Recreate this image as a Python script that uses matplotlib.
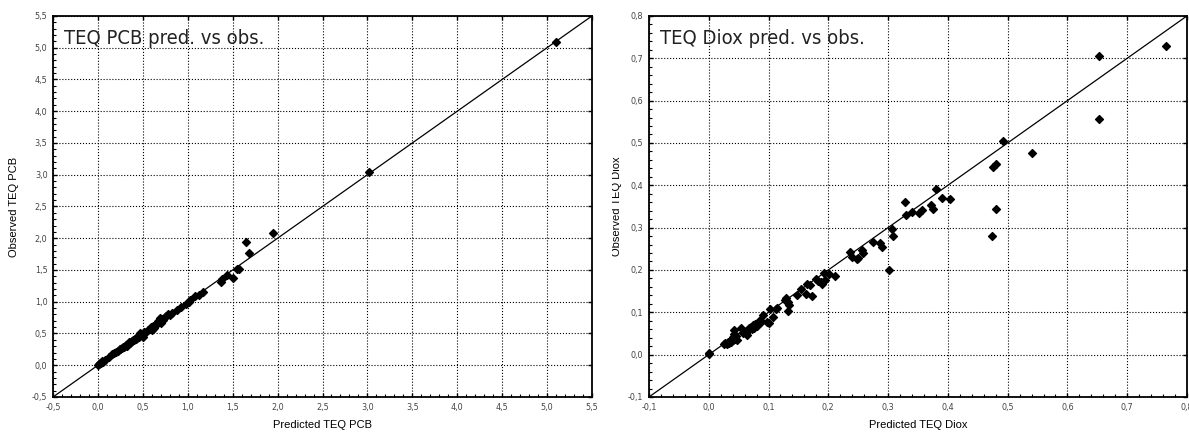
import matplotlib
matplotlib.use("Agg")

import matplotlib.pyplot as plt
from matplotlib.ticker import MultipleLocator, AutoMinorLocator, FuncFormatter
from matplotlib.patches import Rectangle

# TEQ PCB: predicted vs observed
pcb_pred = [0.00, 0.01, 0.02, 0.03, 0.05, 0.06, 0.08, 0.12, 0.16, 0.18,
            0.20, 0.22, 0.24, 0.25, 0.27, 0.28, 0.29, 0.30, 0.31, 0.32,
            0.33, 0.34, 0.35, 0.36, 0.37, 0.38, 0.39, 0.40, 0.41, 0.42,
            0.43, 0.44, 0.45, 0.46, 0.47, 0.48, 0.49, 0.50, 0.51, 0.54,
            0.56, 0.58, 0.59, 0.60, 0.61, 0.62, 0.63, 0.64, 0.66, 0.67,
            0.68, 0.69, 0.70, 0.71, 0.72, 0.74, 0.76, 0.78, 0.80, 0.82,
            0.88, 0.93, 0.98, 1.01, 1.03, 1.08, 1.12, 1.17, 1.37, 1.38,
            1.44, 1.50, 1.55, 1.57, 1.65, 1.68, 1.95, 3.02, 5.10]
pcb_obs = [0.01, 0.02, 0.04, 0.03, 0.06, 0.05, 0.08, 0.13, 0.18, 0.19,
           0.21, 0.22, 0.25, 0.26, 0.27, 0.29, 0.28, 0.31, 0.32, 0.31,
           0.34, 0.33, 0.36, 0.35, 0.37, 0.38, 0.40, 0.39, 0.41, 0.42,
           0.44, 0.43, 0.46, 0.45, 0.51, 0.49, 0.47, 0.45, 0.52, 0.53,
           0.55, 0.57, 0.60, 0.56, 0.62, 0.58, 0.64, 0.61, 0.66, 0.70,
           0.69, 0.74, 0.67, 0.73, 0.71, 0.75, 0.77, 0.80, 0.79, 0.83,
           0.87, 0.91, 0.97, 1.00, 1.03, 1.09, 1.11, 1.15, 1.31, 1.36,
           1.42, 1.37, 1.52, 1.51, 1.94, 1.77, 2.08, 3.04, 5.09]

# TEQ Diox: predicted vs observed
diox_pred = [0.000, 0.001, 0.026, 0.028, 0.030, 0.032, 0.034, 0.036, 0.038, 0.040,
             0.041, 0.042, 0.043, 0.044, 0.046, 0.048, 0.054, 0.058, 0.062, 0.064,
             0.066, 0.068, 0.070, 0.072, 0.074, 0.076, 0.078, 0.080, 0.086, 0.088,
             0.090, 0.098, 0.100, 0.103, 0.108, 0.112, 0.115, 0.128, 0.130, 0.133,
             0.135, 0.133, 0.148, 0.155, 0.162, 0.165, 0.170, 0.173, 0.180, 0.182,
             0.187, 0.190, 0.192, 0.195, 0.202, 0.212, 0.237, 0.240, 0.248, 0.250,
             0.257, 0.258, 0.275, 0.287, 0.290, 0.302, 0.306, 0.309, 0.328, 0.330,
             0.340, 0.352, 0.356, 0.372, 0.375, 0.380, 0.390, 0.403, 0.474, 0.475,
             0.480, 0.480, 0.493, 0.540, 0.652, 0.652, 0.765]
diox_obs = [0.001, 0.003, 0.025, 0.028, 0.024, 0.030, 0.027, 0.033, 0.030, 0.042,
            0.035, 0.058, 0.048, 0.038, 0.044, 0.034, 0.062, 0.052, 0.050, 0.047,
            0.058, 0.062, 0.066, 0.060, 0.070, 0.064, 0.072, 0.068, 0.081, 0.077,
            0.093, 0.078, 0.075, 0.107, 0.090, 0.108, 0.110, 0.129, 0.133, 0.125,
            0.118, 0.102, 0.141, 0.155, 0.143, 0.167, 0.165, 0.138, 0.179, 0.175,
            0.172, 0.167, 0.193, 0.176, 0.191, 0.186, 0.243, 0.230, 0.226, 0.228,
            0.248, 0.240, 0.265, 0.264, 0.255, 0.200, 0.297, 0.281, 0.361, 0.330,
            0.337, 0.335, 0.342, 0.354, 0.344, 0.391, 0.370, 0.368, 0.281, 0.444,
            0.451, 0.344, 0.505, 0.477, 0.706, 0.557, 0.729]

plain = ['Liberation Sans', 'DejaVu Sans']

comma = FuncFormatter(lambda v, pos: f"{v:.1f}".replace('.', ','))

fig = plt.figure(figsize=(11.89, 4.34), dpi=100)
ax1 = fig.add_axes([0.0446, 0.0853, 0.4533, 0.878])
ax2 = fig.add_axes([0.5458, 0.0853, 0.4525, 0.878])


def setup(ax, lo, hi, step, title, xlabel, ylabel, ypad):
    ax.plot([lo, hi], [lo, hi], color='black', lw=0.9, zorder=2)
    ax.set_xlim(lo, hi)
    ax.set_ylim(lo, hi)
    ax.xaxis.set_major_locator(MultipleLocator(step))
    ax.yaxis.set_major_locator(MultipleLocator(step))
    ax.xaxis.set_minor_locator(AutoMinorLocator(5))
    ax.yaxis.set_minor_locator(AutoMinorLocator(5))
    ax.xaxis.set_major_formatter(comma)
    ax.yaxis.set_major_formatter(comma)
    ax.grid(True, which='major', linestyle=':', color='black', lw=0.8)
    ax.tick_params(which='both', direction='in', top=True, right=True,
                   labelsize=6.5, labelcolor='#444444', pad=4)
    ax.tick_params(which='major', length=3, width=1)
    ax.tick_params(which='minor', length=2, width=0.8, top=False, right=False)
    for lbl in ax.get_xticklabels() + ax.get_yticklabels():
        lbl.set_family('DejaVu Sans')
        lbl.set_stretch('condensed')
    for sp in ax.spines.values():
        sp.set_linewidth(1.3)
    ax.set_xlabel(xlabel, fontsize=8, family=plain, labelpad=6)
    ax.set_ylabel(ylabel, fontsize=8, family=plain, labelpad=ypad)
    ax.text(0.02, 0.965, title, transform=ax.transAxes, ha='left', va='top',
            fontsize=14.5, family='DejaVu Sans', stretch='condensed', color='#222222')


setup(ax1, -0.5, 5.5, 0.5, 'TEQ PCB pred. vs obs.', 'Predicted TEQ PCB', 'Observed TEQ PCB', 9)
ax1.scatter(pcb_pred, pcb_obs, marker='D', s=16, color='black', zorder=3)

setup(ax2, -0.1, 0.8, 0.1, 'TEQ Diox pred. vs obs.', 'Predicted TEQ Diox', 'Observed TEQ Diox', 4)
ax2.scatter(diox_pred, diox_obs, marker='D', s=16, color='black', zorder=3)

# the left half of the right y label is cut off in the original
fig.patches.append(Rectangle((600 / 1189, 0.2), 12 / 1189, 0.6, transform=fig.transFigure,
                             facecolor='white', edgecolor='none', zorder=10))

fig.savefig('out.png', dpi=100)
